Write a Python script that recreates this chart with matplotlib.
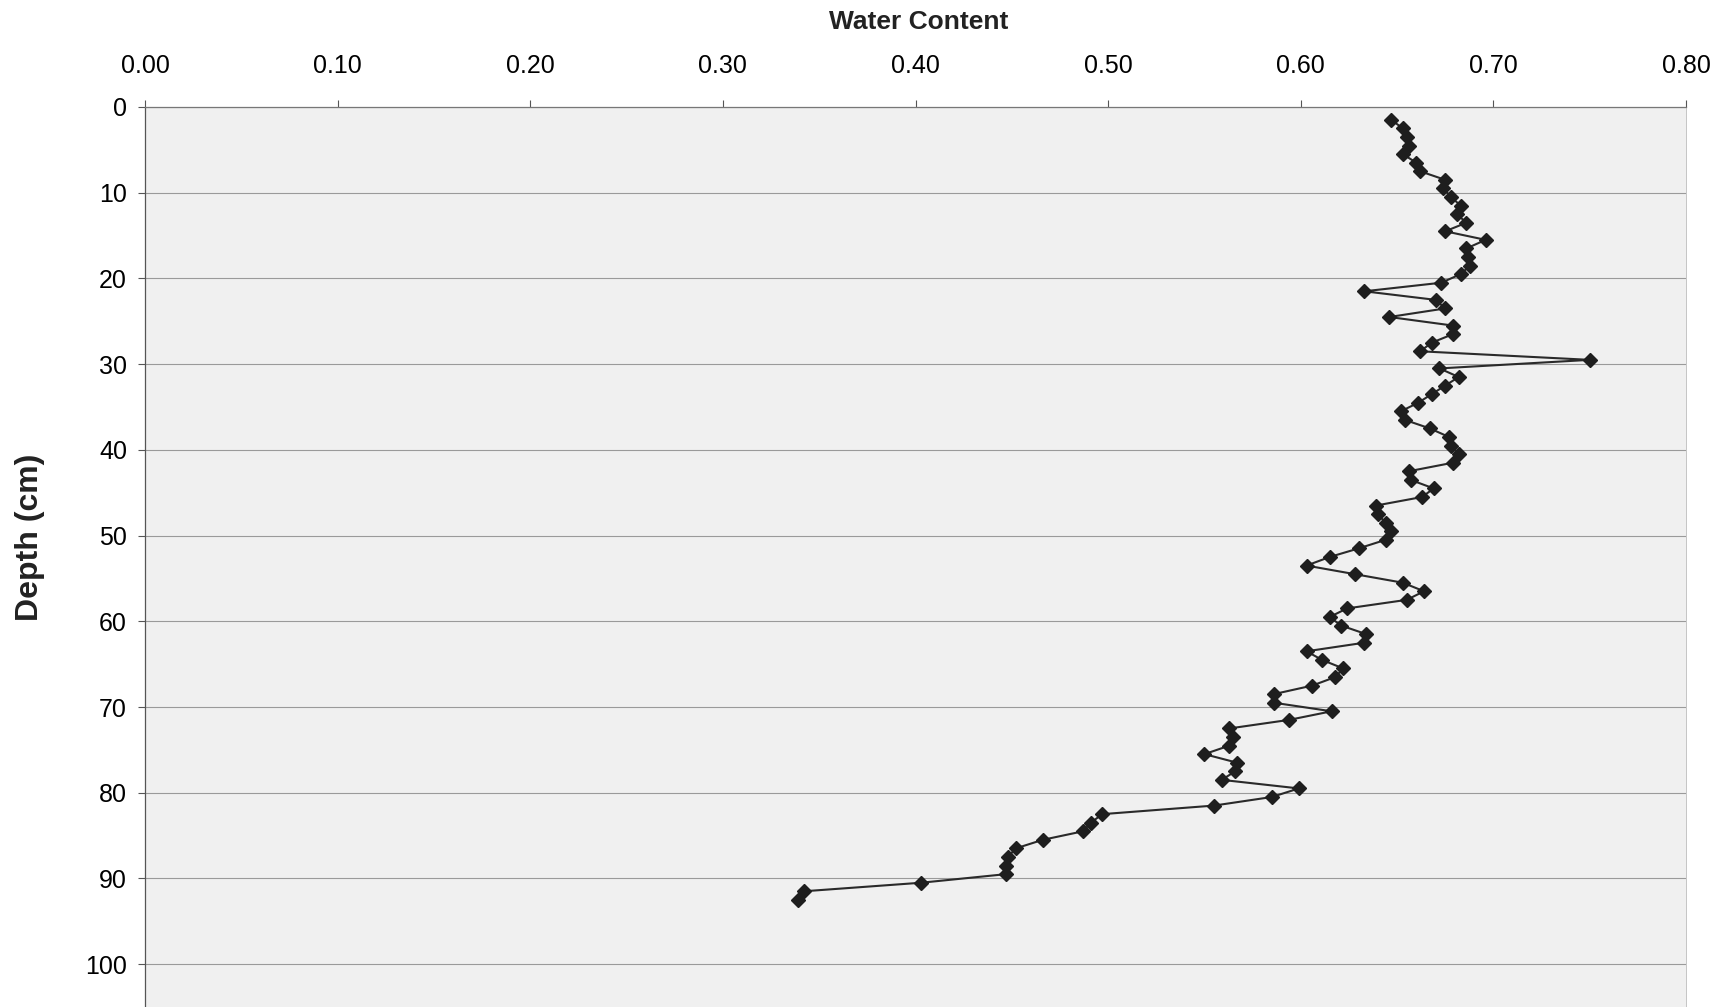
import numpy as np
import matplotlib.pyplot as plt

# depth (cm) of each sample and its water content
depth = np.arange(1.5, 93.0, 1.0)
water = [0.647, 0.653, 0.655, 0.656, 0.653, 0.660, 0.662, 0.675, 0.674, 0.678,
         0.683, 0.681, 0.686, 0.675, 0.696, 0.686, 0.687, 0.688, 0.683, 0.673,
         0.633, 0.670, 0.675, 0.646, 0.679, 0.679, 0.668, 0.662, 0.750, 0.672,
         0.682, 0.675, 0.668, 0.661, 0.652, 0.654, 0.667, 0.677, 0.678, 0.682,
         0.679, 0.656, 0.657, 0.669, 0.663, 0.639, 0.640, 0.644, 0.647, 0.644,
         0.630, 0.615, 0.603, 0.628, 0.653, 0.664, 0.655, 0.624, 0.615, 0.621,
         0.634, 0.633, 0.603, 0.611, 0.622, 0.618, 0.606, 0.586, 0.586, 0.616,
         0.594, 0.563, 0.565, 0.563, 0.550, 0.567, 0.566, 0.559, 0.599, 0.585,
         0.555, 0.497, 0.491, 0.487, 0.466, 0.452, 0.448, 0.447, 0.447, 0.403,
         0.342, 0.339]

x_ticks = np.arange(0, 0.81, 0.10)
y_ticks = np.arange(0, 101, 10)

plt.rcParams['font.family'] = ['Liberation Sans', 'DejaVu Sans']

fig = plt.figure(figsize=(17.22, 10.07), dpi=100)
ax = fig.add_axes([145 / 1722, 0, (1686 - 145) / 1722, 1 - 107 / 1007])
ax.set_facecolor('#f0f0f0')

ax.plot(water, depth, color='#2a2a2a', linewidth=1.5, marker='D',
        markersize=7.5, markerfacecolor='#1e1e1e', markeredgecolor='#1e1e1e',
        zorder=3)

ax.set_xlim(0, 0.80)
ax.set_ylim(105, 0)
ax.xaxis.tick_top()
ax.set_xticks(x_ticks)
ax.set_xticklabels(["{:.2f}".format(v) for v in x_ticks])
ax.set_yticks(y_ticks)
ax.tick_params(axis='x', labelsize=18, length=5, width=0.8, color='#555555',
               pad=16, direction='out')
ax.tick_params(axis='y', labelsize=18, length=5, width=0.8, color='#555555',
               pad=8, direction='out')

ax.yaxis.grid(True, color='#9a9a9a', linewidth=0.8)
ax.xaxis.grid(False)
ax.set_axisbelow(True)

ax.spines['bottom'].set_visible(False)
ax.spines['top'].set_color('#777777')
ax.spines['top'].set_linewidth(0.9)
ax.spines['left'].set_color('#555555')
ax.spines['left'].set_linewidth(0.9)
ax.spines['right'].set_color('#bbbbbb')
ax.spines['right'].set_linewidth(0.6)

fig.text(919 / 1722, 1 - 22 / 1007, "Water Content", ha='center', va='center',
         fontsize=19, fontweight='bold', color='#222222')
fig.text(30 / 1722, 1 - 537 / 1007, "Depth (cm)", ha='center', va='center',
         rotation=90, fontsize=23, fontweight='bold', color='#222222')

fig.savefig("out.png", dpi=100)
